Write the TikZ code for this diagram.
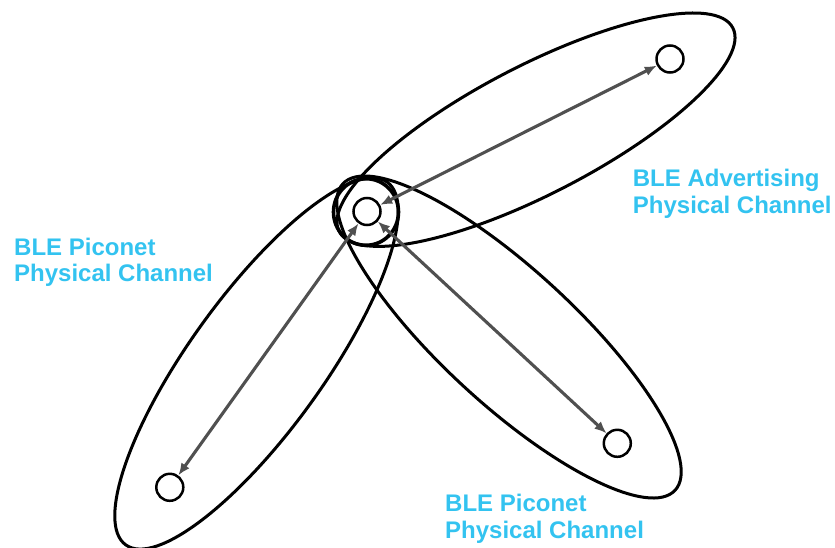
\documentclass[tikz,border=0pt]{standalone}
\usepackage{fontspec}
\setmainfont{Liberation Sans}
\usetikzlibrary{arrows.meta}
\definecolor{labelcyan}{HTML}{33C3F0}
\definecolor{linkgray}{HTML}{505050}
\begin{document}
\begin{tikzpicture}[x=1pt,y=-1pt,
  group/.style={draw=black,line width=3pt},
  device/.style={circle,draw=black,line width=2.5pt,minimum size=27pt,inner sep=0pt,fill=white},
  link/.style={draw=linkgray,line width=3.1pt,{Latex[length=12pt,width=10pt]}-{Latex[length=12pt,width=10pt]}},
  chanlabel/.style={font=\fontsize{24}{26.7}\selectfont\bfseries,text=labelcyan,align=left,inner sep=0pt,anchor=base west}
]
\useasboundingbox (0,0) rectangle (835,548);

% channel groupings
\draw[group,rotate around={27.35:(536,129.7)}] (536,129.7) ellipse [x radius=221.6, y radius=64.2];
\draw[group,rotate around={54.2:(256.5,363.5)}] (256.5,363.5) ellipse [x radius=223.6, y radius=67.2];
\draw[group,rotate around={-42.7:(509,337)}] (509,337) ellipse [x radius=226, y radius=67];
\draw[black,line width=3.6pt] (366,212) ellipse [x radius=32.5, y radius=33.3];

% devices
\node[device] (hub) at (367,211.5) {};
\node[device] (adv) at (670,59) {};
\node[device] (pl) at (169.8,487.3) {};
\node[device] (pr) at (617.3,443.3) {};

% links
\draw[link] (hub) -- (adv);
\draw[link] (hub) -- (pl);
\draw[link] (hub) -- (pr);

% labels (base anchor sits on the last line)
\node[chanlabel] (ladv) at (632.7,213.3) {BLE Advertising\\Physical Channel};
\node[chanlabel] (lpl) at (14,281.7) {BLE Piconet\\Physical Channel};
\node[chanlabel] (lpr) at (445,538.3) {BLE Piconet\\Physical Channel};
\end{tikzpicture}
\end{document}
